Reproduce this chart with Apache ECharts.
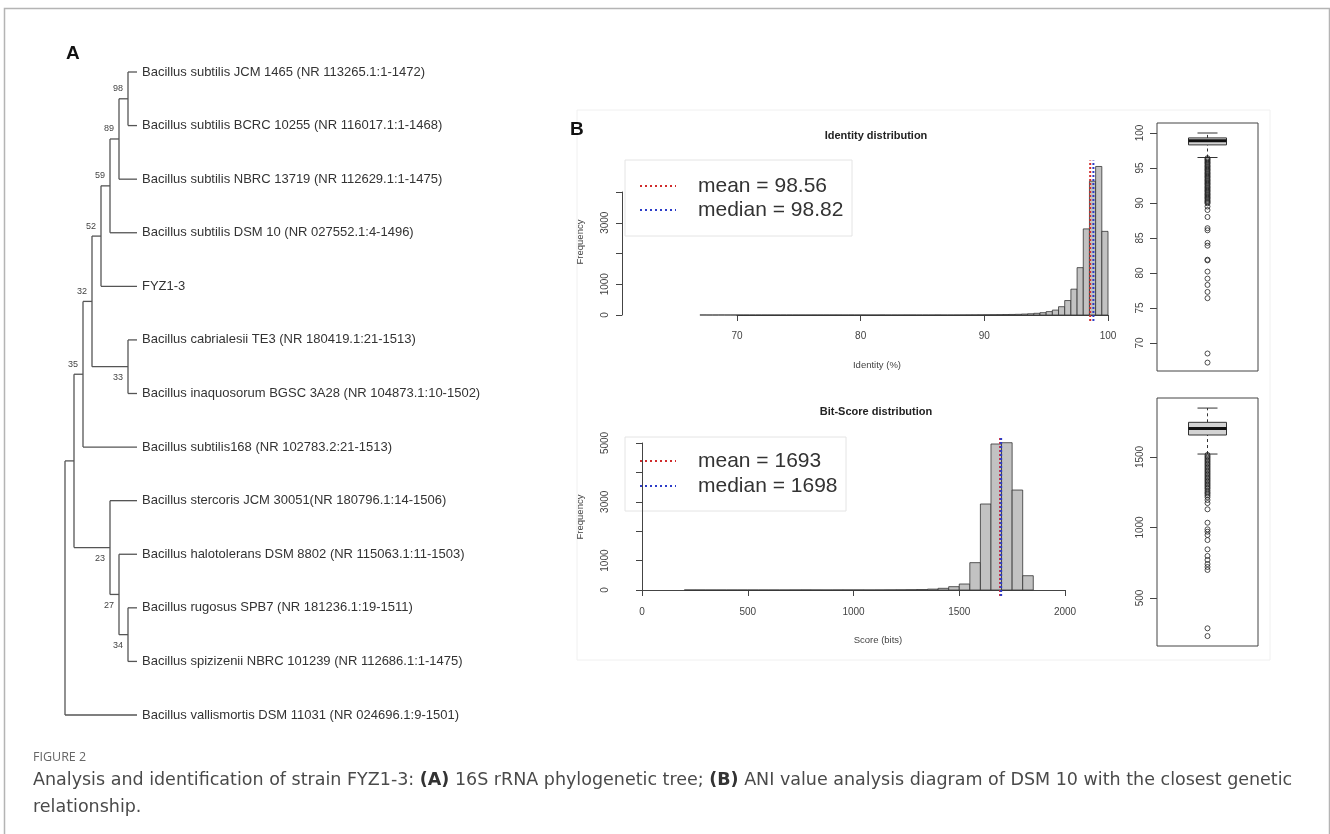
<!DOCTYPE html>
<html>
<head>
<meta charset="utf-8">
<title>Figure 2</title>
<script src="https://cdn.jsdelivr.net/npm/echarts@6.0.0/dist/echarts.min.js"></script>
<style>
  html, body { margin: 0; padding: 0; background: #fff; }
  #chart { width: 1330px; height: 834px; }
</style>
</head>
<body>
<div id="chart"></div>
<script>
// ---- A: 16S rRNA tree ----
const leafNames = [
  'Bacillus subtilis JCM 1465 (NR 113265.1:1-1472)',
  'Bacillus subtilis BCRC 10255 (NR 116017.1:1-1468)',
  'Bacillus subtilis NBRC 13719 (NR 112629.1:1-1475)',
  'Bacillus subtilis DSM 10 (NR 027552.1:4-1496)',
  'FYZ1-3',
  'Bacillus cabrialesii TE3 (NR 180419.1:21-1513)',
  'Bacillus inaquosorum BGSC 3A28 (NR 104873.1:10-1502)',
  'Bacillus subtilis168 (NR 102783.2:21-1513)',
  'Bacillus stercoris JCM 30051(NR 180796.1:14-1506)',
  'Bacillus halotolerans DSM 8802 (NR 115063.1:11-1503)',
  'Bacillus rugosus SPB7 (NR 181236.1:19-1511)',
  'Bacillus spizizenii NBRC 101239 (NR 112686.1:1-1475)',
  'Bacillus vallismortis DSM 11031 (NR 024696.1:9-1501)'
]
// leaves are indices into leafNames, numbers after ')' are bootstrap values
const treeNewick = '((((((((0,1)98,2)89,3)59,4)52,(5,6)33)32,7)35,(8,(9,(10,11)34)27)23),12)'

// ---- B: identity distribution ----
const identityBinStart = 67
const identityBinWidth = 0.5
const identityCounts = [
  1, 0, 0, 1,
  0, 0, 0, 0, 0, 0, 0, 0, 0, 0, 0, 0, 0, 0,
  1, 1, 1, 1, 1, 0, 1, 0, 1, 0, 0, 2, 0, 0, 0, 1, 1, 0, 0, 0, 2, 0, 0, 1,
  2, 3, 4, 6, 8, 10, 12, 15, 18, 22, 30, 40, 55, 75, 110, 160, 270, 470,
  840, 1540, 2800, 4350, 4830, 2720
]
const identityYTicks = [0, 1000, 3000]
const identityMean = 98.56
const identityMedian = 98.82
// [lower whisker, Q1, median, Q3, upper whisker]
const identityBox = [96.5, 98.3, 98.9, 99.3, 100]
const identityOutliers = [
  96.4, 96.25, 96.1, 95.9, 95.75, 95.6, 95.4, 95.25, 95.1, 94.9, 94.75, 94.6,
  94.4, 94.25, 94.1, 93.9, 93.75, 93.6, 93.4, 93.25, 93.1, 92.9, 92.75, 92.6,
  92.4, 92.25, 92.1, 91.9, 91.75, 91.6, 91.4, 91.25, 91.1, 90.9, 90.75, 90.6,
  90.4, 90.25, 90.1, 89.95, 89.5, 89.0, 88.0, 86.4, 86.1, 84.3, 83.9, 81.9,
  81.8, 80.2, 79.2, 78.3, 77.3, 76.4, 68.5, 67.2
]

// ---- B: bit-score distribution ----
const scoreBinStart = 200
const scoreBinWidth = 50
const scoreCounts = [
  1, 1, 0, 0, 0, 0, 0, 0, 0, 0,
  2, 3, 2, 1, 2, 2, 2, 1, 2, 4, 6, 10, 15, 30, 57, 113, 204,
  930, 2925, 4966, 5010, 3400, 486
]
const scoreYTicks = [0, 1000, 3000, 5000]
const scoreMean = 1693
const scoreMedian = 1698
const scoreBox = [1521, 1656, 1703, 1746, 1847]
const scoreOutliers = [
  1515, 1505, 1495, 1485, 1475, 1465, 1455, 1445, 1435, 1425, 1415, 1405,
  1395, 1385, 1375, 1365, 1355, 1345, 1335, 1325, 1315, 1305, 1295, 1285,
  1275, 1262, 1250, 1240, 1228, 1215, 1195, 1173, 1129, 1034, 987, 970, 947,
  911, 845, 798, 770, 741, 720, 699, 285, 230
]

const FONT = 'Liberation Sans, Arial, sans-serif'
const AXIS = '#444'

// parse the newick string into nested nodes
function parseNewick(s) {
  let i = 0
  function readNum() {
    let t = ''
    while (i < s.length && /[0-9]/.test(s[i])) t += s[i++]
    return t
  }
  function node() {
    if (s[i] === '(') {
      i++
      const kids = [node()]
      while (s[i] === ',') { i++; kids.push(node()) }
      i++
      const b = readNum()
      return { kids, boot: b ? +b : null }
    }
    return { leaf: +readNum() }
  }
  return node()
}

const root = parseNewick(treeNewick)
function measure(n) {
  if (n.leaf !== undefined) { n.h = 0; n.y = n.leaf; return }
  n.kids.forEach(measure)
  n.h = 1 + Math.max(...n.kids.map(k => k.h))
  n.y = (n.kids[0].y + n.kids[n.kids.length - 1].y) / 2
}
measure(root)

// cladogram: tips aligned, nodes placed by height
const treeSegments = []
const bootItems = []
const tipItems = []
function collect(n, below) {
  n.x = root.h - n.h
  if (n.leaf !== undefined) { tipItems.push([n.x, n.y, n.leaf]); return }
  if (n.boot !== null) bootItems.push([n.x, n.y, n.boot, below ? 1 : 0])
  const first = n.kids[0], last = n.kids[n.kids.length - 1]
  treeSegments.push([n.x, first.y, n.x, last.y])
  n.kids.forEach((k, idx) => {
    collect(k, idx > 0)
    treeSegments.push([n.x, k.y, k.x, k.y])
  })
}
collect(root, false)

const binData = (start, w, counts) => counts.map((c, i) => [start + i * w, start + (i + 1) * w, c])

const histItem = (params, api) => {
  const p0 = api.coord([api.value(0), 0])
  const p1 = api.coord([api.value(1), api.value(2)])
  return {
    type: 'rect',
    shape: { x: p0[0], y: p1[1], width: p1[0] - p0[0], height: p0[1] - p1[1] },
    style: { fill: '#c2c2c2', stroke: '#333', lineWidth: 0.8 }
  }
}

const boxItem = (params, api) => {
  const v = [1, 2, 3, 4, 5].map(d => api.value(d))
  const cx = api.coord([api.value(0), v[2]])[0]
  const y = v.map(val => api.coord([api.value(0), val])[1])
  const half = 19, cap = 10
  const ln = (x1, y1, x2, y2, extra) => ({
    type: 'line', shape: { x1, y1, x2, y2 },
    style: Object.assign({ stroke: '#333', lineWidth: 1 }, extra || {})
  })
  return {
    type: 'group',
    children: [
      ln(cx, y[3], cx, y[4], { lineDash: [3, 3] }),
      ln(cx, y[0], cx, y[1], { lineDash: [3, 3] }),
      ln(cx - cap, y[4], cx + cap, y[4]),
      ln(cx - cap, y[0], cx + cap, y[0]),
      { type: 'rect', shape: { x: cx - half, y: y[3], width: half * 2, height: y[1] - y[3] },
        style: { fill: '#d3d3d3', stroke: '#333', lineWidth: 1 } },
      ln(cx - half, y[2], cx + half, y[2], { stroke: '#111', lineWidth: 3 })
    ]
  }
}

const vline = (value, lo, hi, color, xi) => ({
  type: 'line', xAxisIndex: xi, yAxisIndex: xi, clip: false, silent: true,
  symbol: 'none', data: [[value, lo], [value, hi]],
  lineStyle: { color, width: 2, type: [2, 2] }
})

const hiddenAxis = (gi, min, max, inverse) => ({
  type: 'value', gridIndex: gi, min, max, inverse: !!inverse, show: false
})

const plain = v => String(v)
const tickLabel = { color: AXIS, fontSize: 10, fontFamily: FONT }

const chart = echarts.init(document.getElementById('chart'))
chart.setOption({
  animation: false,
  backgroundColor: '#fff',
  grid: [
    { left: 65, top: 72, width: 72, height: 643 },
    { left: 737, top: 192, width: 371, height: 123 },
    { left: 642, top: 443, width: 423, height: 147 },
    { left: 1157, top: 133, width: 101, height: 210 },
    { left: 1157, top: 457, width: 101, height: 141 }
  ],
  xAxis: [
    hiddenAxis(0, 0, root.h),
    {
      type: 'value', gridIndex: 1, min: 70, max: 100, interval: 10, offset: 6,
      splitLine: { show: false },
      axisLine: { lineStyle: { color: AXIS } },
      axisTick: { length: 6, lineStyle: { color: AXIS } },
      axisLabel: Object.assign({ margin: 10, formatter: plain }, tickLabel)
    },
    {
      type: 'value', gridIndex: 2, min: 0, max: 2000, interval: 500, offset: 7,
      splitLine: { show: false },
      axisLine: { lineStyle: { color: AXIS } },
      axisTick: { length: 6, lineStyle: { color: AXIS } },
      axisLabel: Object.assign({ margin: 10, formatter: plain }, tickLabel)
    },
    hiddenAxis(3, 0, 1),
    hiddenAxis(4, 0, 1)
  ],
  yAxis: [
    hiddenAxis(0, 0, leafNames.length - 1, true),
    {
      type: 'value', gridIndex: 1, min: 0, max: 4000, interval: 1000, offset: 115,
      splitLine: { show: false },
      axisLine: { show: true, lineStyle: { color: AXIS } },
      axisTick: { show: true, length: 6, lineStyle: { color: AXIS } },
      axisLabel: Object.assign({ rotate: 90, margin: 12,
        formatter: v => identityYTicks.includes(v) ? String(v) : '' }, tickLabel)
    },
    {
      type: 'value', gridIndex: 2, min: 0, max: 5000, interval: 1000, offset: 20,
      splitLine: { show: false },
      axisLine: { show: true, lineStyle: { color: AXIS } },
      axisTick: { show: true, length: 6, lineStyle: { color: AXIS } },
      axisLabel: Object.assign({ rotate: 90, margin: 12,
        formatter: v => scoreYTicks.includes(v) ? String(v) : '' }, tickLabel)
    },
    {
      type: 'value', gridIndex: 3, min: 70, max: 100, interval: 5,
      splitLine: { show: false },
      axisLine: { show: false },
      axisTick: { show: true, length: 7, lineStyle: { color: AXIS } },
      axisLabel: Object.assign({ rotate: 90, margin: 12, formatter: plain }, tickLabel)
    },
    {
      type: 'value', gridIndex: 4, min: 500, max: 1500, interval: 500,
      splitLine: { show: false },
      axisLine: { show: false },
      axisTick: { show: true, length: 7, lineStyle: { color: AXIS } },
      axisLabel: Object.assign({ rotate: 90, margin: 12, formatter: plain }, tickLabel)
    }
  ],
  series: [
    // tree branches
    {
      type: 'custom', xAxisIndex: 0, yAxisIndex: 0, clip: false, silent: true,
      data: treeSegments,
      renderItem: (params, api) => {
        const a = api.coord([api.value(0), api.value(1)])
        const b = api.coord([api.value(2), api.value(3)])
        return { type: 'line', shape: { x1: a[0], y1: a[1], x2: b[0], y2: b[1] },
          style: { stroke: '#555', lineWidth: 1.3 } }
      }
    },
    // leaf names
    {
      type: 'custom', xAxisIndex: 0, yAxisIndex: 0, clip: false, silent: true,
      data: tipItems,
      renderItem: (params, api) => {
        const p = api.coord([api.value(0), api.value(1)])
        return { type: 'text', x: p[0] + 5, y: p[1],
          style: { text: leafNames[tipItems[params.dataIndex][2]], fill: '#333',
            fontSize: 13, fontFamily: FONT, verticalAlign: 'middle', align: 'left' } }
      }
    },
    // bootstrap values
    {
      type: 'custom', xAxisIndex: 0, yAxisIndex: 0, clip: false, silent: true,
      data: bootItems,
      renderItem: (params, api) => {
        const p = api.coord([api.value(0), api.value(1)])
        const below = api.value(3) === 1
        return { type: 'text', x: p[0] - 5, y: p[1] + (below ? 11 : -10),
          style: { text: String(api.value(2)), fill: '#444', fontSize: 9,
            fontFamily: FONT, verticalAlign: 'middle', align: 'right' } }
      }
    },
    // identity histogram
    {
      type: 'custom', xAxisIndex: 1, yAxisIndex: 1, clip: false, silent: true,
      data: binData(identityBinStart, identityBinWidth, identityCounts),
      renderItem: histItem
    },
    vline(identityMean, -193, 5023, '#d02c2c', 1),
    vline(identityMedian, -193, 5023, '#2c3cc8', 1),
    // bit-score histogram
    {
      type: 'custom', xAxisIndex: 2, yAxisIndex: 2, clip: false, silent: true,
      data: binData(scoreBinStart, scoreBinWidth, scoreCounts),
      renderItem: histItem
    },
    vline(scoreMean, -200, 5210, '#c02c4c', 2),
    vline(scoreMedian, -200, 5210, '#2c3cc8', 2),
    // boxplots
    {
      type: 'custom', xAxisIndex: 3, yAxisIndex: 3, clip: false, silent: true,
      data: [[0.5].concat(identityBox)], renderItem: boxItem
    },
    {
      type: 'scatter', xAxisIndex: 3, yAxisIndex: 3, clip: false, silent: true,
      symbol: 'circle', symbolSize: 5,
      itemStyle: { color: 'rgba(0,0,0,0)', borderColor: '#222', borderWidth: 1 },
      data: identityOutliers.map(v => [0.5, v])
    },
    {
      type: 'custom', xAxisIndex: 4, yAxisIndex: 4, clip: false, silent: true,
      data: [[0.5].concat(scoreBox)], renderItem: boxItem
    },
    {
      type: 'scatter', xAxisIndex: 4, yAxisIndex: 4, clip: false, silent: true,
      symbol: 'circle', symbolSize: 5,
      itemStyle: { color: 'rgba(0,0,0,0)', borderColor: '#222', borderWidth: 1 },
      data: scoreOutliers.map(v => [0.5, v])
    }
  ],
  graphic: {
    elements: [
      // outer frame
      { type: 'rect', shape: { x: 4.5, y: 8.5, width: 1325, height: 900 },
        style: { fill: 'none', stroke: '#b4b4b4', lineWidth: 1.5 }, silent: true },
      // faint edge of panel B image
      { type: 'rect', shape: { x: 577, y: 110, width: 693, height: 550 },
        style: { fill: 'none', stroke: '#f0f0f0', lineWidth: 1 }, silent: true },
      { type: 'text', x: 66, y: 54, style: { text: 'A', fontSize: 19, fontWeight: 'bold',
        fontFamily: FONT, fill: '#111', verticalAlign: 'middle' } },
      { type: 'text', x: 570, y: 130, style: { text: 'B', fontSize: 19, fontWeight: 'bold',
        fontFamily: FONT, fill: '#111', verticalAlign: 'middle' } },

      // identity panel texts
      { type: 'text', x: 876, y: 136, style: { text: 'Identity distribution', fontSize: 11,
        fontWeight: 'bold', fontFamily: FONT, fill: '#222', align: 'center', verticalAlign: 'middle' } },
      { type: 'text', x: 877, y: 365, style: { text: 'Identity (%)', fontSize: 9.5,
        fontFamily: FONT, fill: AXIS, align: 'center', verticalAlign: 'middle' } },
      { type: 'text', x: 580, y: 242, rotation: Math.PI / 2, style: { text: 'Frequency',
        fontSize: 9.5, fontFamily: FONT, fill: AXIS, align: 'center', verticalAlign: 'middle' } },
      { type: 'rect', shape: { x: 625, y: 160, width: 227, height: 76 },
        style: { fill: 'none', stroke: '#e4e4e4', lineWidth: 1 }, silent: true },
      { type: 'line', shape: { x1: 640, y1: 186, x2: 676, y2: 186 },
        style: { stroke: '#d02c2c', lineWidth: 2, lineDash: [2, 3] } },
      { type: 'line', shape: { x1: 640, y1: 210, x2: 676, y2: 210 },
        style: { stroke: '#2c3cc8', lineWidth: 2, lineDash: [2, 3] } },
      { type: 'text', x: 698, y: 186, style: { text: 'mean = ' + identityMean, fontSize: 21,
        fontFamily: FONT, fill: '#333', verticalAlign: 'middle' } },
      { type: 'text', x: 698, y: 210, style: { text: 'median = ' + identityMedian, fontSize: 21,
        fontFamily: FONT, fill: '#333', verticalAlign: 'middle' } },

      // bit-score panel texts
      { type: 'text', x: 876, y: 412, style: { text: 'Bit-Score distribution', fontSize: 11,
        fontWeight: 'bold', fontFamily: FONT, fill: '#222', align: 'center', verticalAlign: 'middle' } },
      { type: 'text', x: 878, y: 640, style: { text: 'Score (bits)', fontSize: 9.5,
        fontFamily: FONT, fill: AXIS, align: 'center', verticalAlign: 'middle' } },
      { type: 'text', x: 580, y: 517, rotation: Math.PI / 2, style: { text: 'Frequency',
        fontSize: 9.5, fontFamily: FONT, fill: AXIS, align: 'center', verticalAlign: 'middle' } },
      { type: 'rect', shape: { x: 625, y: 437, width: 221, height: 74 },
        style: { fill: 'none', stroke: '#e4e4e4', lineWidth: 1 }, silent: true },
      { type: 'line', shape: { x1: 640, y1: 461, x2: 676, y2: 461 },
        style: { stroke: '#d02c2c', lineWidth: 2, lineDash: [2, 3] } },
      { type: 'line', shape: { x1: 640, y1: 486, x2: 676, y2: 486 },
        style: { stroke: '#2c3cc8', lineWidth: 2, lineDash: [2, 3] } },
      { type: 'text', x: 698, y: 461, style: { text: 'mean = ' + scoreMean, fontSize: 21,
        fontFamily: FONT, fill: '#333', verticalAlign: 'middle' } },
      { type: 'text', x: 698, y: 486, style: { text: 'median = ' + scoreMedian, fontSize: 21,
        fontFamily: FONT, fill: '#333', verticalAlign: 'middle' } },

      // boxplot frames
      { type: 'rect', shape: { x: 1157, y: 123, width: 101, height: 248 },
        style: { fill: 'none', stroke: '#444', lineWidth: 1 }, silent: true },
      { type: 'rect', shape: { x: 1157, y: 398, width: 101, height: 248 },
        style: { fill: 'none', stroke: '#444', lineWidth: 1 }, silent: true },

      // caption
      { type: 'text', x: 33, y: 757, style: { text: 'FIGURE 2', fontSize: 12.5,
        fontFamily: 'Open Sans, sans-serif', fill: '#666', verticalAlign: 'middle' } },
      { type: 'text', x: 33, y: 767, style: {
        text: 'Analysis and identification of strain FYZ1-3: {b|(A)} 16S rRNA phylogenetic tree; {b|(B)} ANI value analysis diagram of DSM 10 with the closest genetic\nrelationship.',
        fontSize: 17.5, lineHeight: 27, fontFamily: 'DejaVu Sans, sans-serif', fill: '#4a4a4a',
        verticalAlign: 'top',
        rich: { b: { fontSize: 17.5, lineHeight: 27, fontWeight: 'bold', fontFamily: 'DejaVu Sans, sans-serif', fill: '#333' } }
      } }
    ]
  }
})
</script>
</body>
</html>
